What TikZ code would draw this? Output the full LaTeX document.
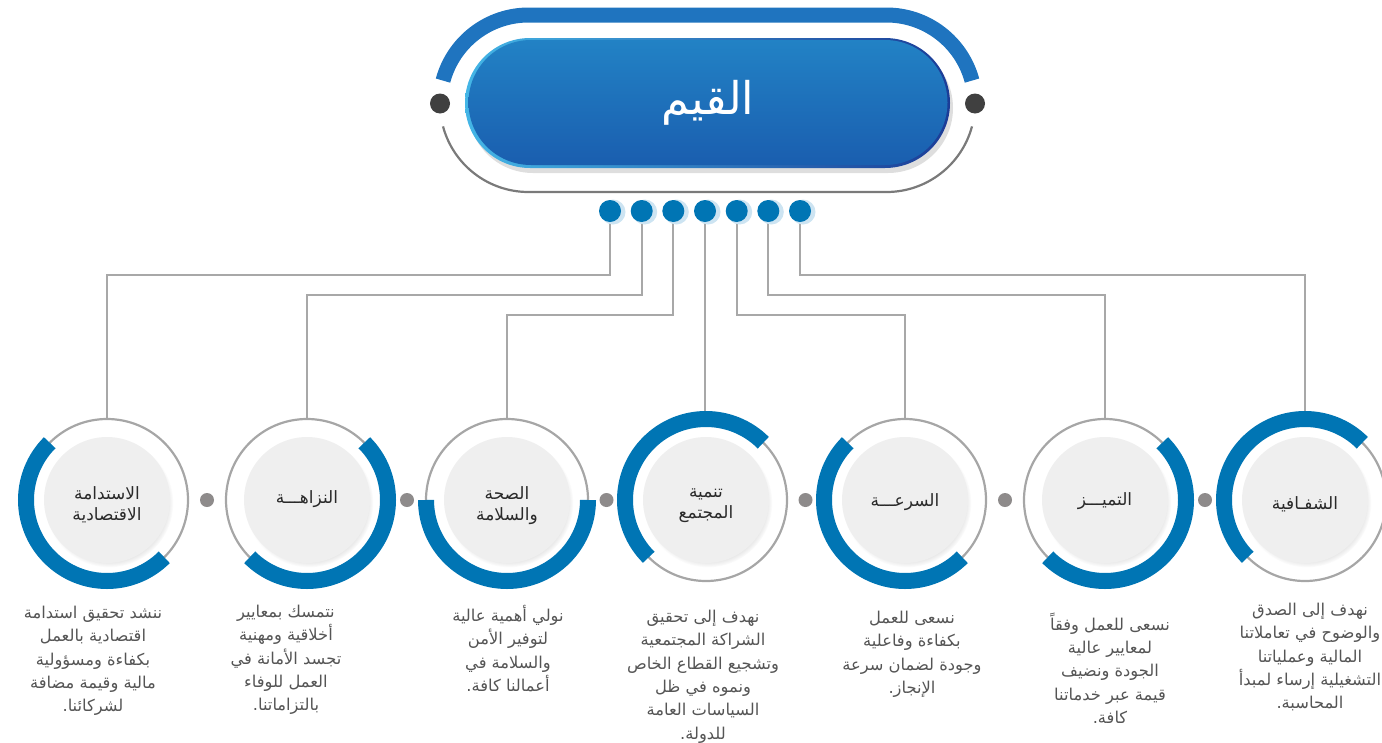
\documentclass[tikz,border=0pt]{standalone}
\usepackage{fontspec}
\setmainfont{DejaVu Sans}
\newfontfamily\arabicfont[Script=Arabic]{DejaVu Sans}
\TeXXeTstate=1
\usetikzlibrary{shadows,shapes.misc,calc,fadings,backgrounds}
\newcommand{\ar}[1]{{\arabicfont\beginR #1\endR}}
\definecolor{ringblue}{HTML}{0075B4}
\definecolor{topblue}{HTML}{1F74BF}
\definecolor{ringgray}{HTML}{A6A6A6}
\definecolor{linegray}{HTML}{A8A8A8}
\definecolor{framegray}{HTML}{7A7A7A}
\definecolor{dotdark}{HTML}{404040}
\definecolor{dotgray}{HTML}{8E8B8B}
\definecolor{diskfill}{HTML}{EFEFEF}
\definecolor{labeltext}{HTML}{2A2A2A}
\definecolor{desctext}{HTML}{555555}
\definecolor{halo}{HTML}{CDE4F2}
\definecolor{pilltop}{HTML}{2282C5}
\definecolor{pillbot}{HTML}{1A5EAF}
\definecolor{pillleft}{HTML}{44B6E6}
\definecolor{pillright}{HTML}{1B3C97}
\tikzset{
  darkdot/.style={circle, fill=dotdark, minimum size=20pt, inner sep=0pt},
  topdot/.style={circle, fill=ringblue, minimum size=22pt, inner sep=0pt},
  graydot/.style={circle, fill=dotgray, minimum size=14pt, inner sep=0pt},
  ring/.style={circle, draw=ringgray, line width=2.2pt, minimum size=162pt, inner sep=0pt},
  bluearc/.style={draw=ringblue, line width=16pt},
  disk/.style={circle, fill=diskfill, minimum size=126pt, inner sep=0pt,
    circular drop shadow={shadow xshift=2pt, shadow yshift=-3pt, opacity=0.3, shadow scale=1.02}},
  lab/.style={font=\fontsize{17}{21}\selectfont, text=labeltext, align=center},
  desc/.style={font=\fontsize{16.3}{23.3}\selectfont, text=desctext, align=center, anchor=north, inner sep=0pt},
  conn/.style={draw=linegray, line width=1.8pt},
}
\begin{document}
\begin{tikzpicture}[x=1pt,y=1pt]
\useasboundingbox (0,0) rectangle (1382,-742);

% top frame
\draw[topblue, line width=15pt] (528.5,-103.5) ++(165:88.5) arc[start angle=165,end angle=90,radius=88.5] -- (886.5,-15) arc[start angle=90,end angle=15,radius=88.5];
\draw[framegray, line width=2.2pt] (528.5,-103.5) ++(195:88.5) arc[start angle=195,end angle=270,radius=88.5] -- (886.5,-192) arc[start angle=270,end angle=345,radius=88.5];
\node[darkdot] (L) at (440,-103.5) {};
\node[darkdot] (R) at (975,-103.5) {};

% title pill
\node[rounded rectangle, minimum width=485pt, minimum height=130pt, inner sep=0pt,
  left color=pillleft, right color=pillright,
  drop shadow={shadow xshift=3pt, shadow yshift=-5pt, opacity=0.13, fill=black}] (pillb) at (707.5,-103) {};
\node[rounded rectangle, minimum width=479pt, minimum height=125pt, inner sep=0pt,
  top color=pilltop, bottom color=pillbot, text=white, font=\fontsize{45}{50}\selectfont] (title) at (708,-102.5) {\ar{القيم}};

% top dots
\foreach \i/\x in {1/610,2/641.7,3/673.3,4/705,5/736.7,6/768.3,7/800}{
  \fill[halo] (\x+3,-212) circle (12.5);
  \node[topdot] (d\i) at (\x,-211) {};
}

% circles
\foreach \i/\x/\a/\b in {1/107/135/315, 2/307/-135/45, 3/507/180/360, 4/706/45/225, 5/905/135/315, 6/1105/-135/45, 7/1305/45/225}{
  \node[ring] (c\i) at (\x,-500) {};
  \draw[bluearc] (c\i.center) ++(\a:81) arc[start angle=\a, end angle=\b, radius=81];
  \node[disk] (k\i) at (c\i.center) {};
}

% gray dots between circles
\node[graydot] (g1) at ($(c1)!0.5!(c2)$) {};
\node[graydot] (g2) at ($(c2)!0.5!(c3)$) {};
\node[graydot] (g3) at ($(c3)!0.5!(c4)$) {};
\node[graydot] (g4) at ($(c4)!0.5!(c5)$) {};
\node[graydot] (g5) at ($(c5)!0.5!(c6)$) {};
\node[graydot] (g6) at ($(c6)!0.5!(c7)$) {};

% connectors (behind the circles)
\coordinate (lv1) at (0,-275);
\coordinate (lv2) at (0,-295);
\coordinate (lv3) at (0,-315);
\begin{scope}[on background layer]
\draw[conn] (d1.south) |- (c1.north |- lv1) -- (c1.north);
\draw[conn] (d2.south) |- (c2.north |- lv2) -- (c2.north);
\draw[conn] (d3.south) |- (c3.north |- lv3) -- (c3.north);
\draw[conn] (d4.south) -- (d4.south |- c4.north);
\draw[conn] (d5.south) |- (c5.north |- lv3) -- (c5.north);
\draw[conn] (d6.south) |- (c6.north |- lv2) -- (c6.north);
\draw[conn] (d7.south) |- (c7.north |- lv1) -- (c7.north);
\end{scope}

% labels
\node[lab] (n1) at (107,-505) {\ar{الاستدامة}\\\ar{الاقتصادية}};
\node[lab] (n2) at (307,-499) {\ar{النزاهـــة}};
\node[lab] (n3) at (507,-506) {\ar{الصحة}\\\ar{والسلامة}};
\node[lab] (n4) at (706,-506) {\ar{تنمية}\\\ar{المجتمع}};
\node[lab] (n5) at (905,-502) {\ar{السرعـــة}};
\node[lab] (n6) at (1105,-501) {\ar{التميـــز}};
\node[lab] (n7) at (1305,-504) {\ar{الشفـافية}};

% descriptions
\node[desc] (t1) at (93,-606) {\ar{ننشد تحقيق استدامة}\\\ar{اقتصادية بالعمل}\\\ar{بكفاءة ومسؤولية}\\\ar{مالية وقيمة مضافة}\\\ar{لشركائنا.}};
\node[desc] (t2) at (286,-605) {\ar{نتمسك بمعايير}\\\ar{أخلاقية ومهنية}\\\ar{تجسد الأمانة في}\\\ar{العمل للوفاء}\\\ar{بالتزاماتنا.}};
\node[desc] (t3) at (508,-605) {\ar{نولي أهمية عالية}\\\ar{لتوفير الأمن}\\\ar{والسلامة في}\\\ar{أعمالنا كافة.}};
\node[desc] (t4) at (703,-610) {\ar{نهدف إلى تحقيق}\\\ar{الشراكة المجتمعية}\\\ar{وتشجيع القطاع الخاص}\\\ar{ونموه في ظل}\\\ar{السياسات العامة}\\\ar{للدولة.}};
\node[desc] (t5) at (912,-611) {\ar{نسعى للعمل}\\\ar{بكفاءة وفاعلية}\\\ar{وجودة لضمان سرعة}\\\ar{الإنجاز.}};
\node[desc] (t6) at (1110,-613) {\ar{نسعى للعمل وفقاً}\\\ar{لمعايير عالية}\\\ar{الجودة ونضيف}\\\ar{قيمة عبر خدماتنا}\\\ar{كافة.}};
\begin{scope}
\clip (1222,-590) rectangle (1382,-742);
\node[desc] (t7) at (1310,-603) {\ar{نهدف إلى الصدق}\\\ar{والوضوح في تعاملاتنا}\\\ar{المالية وعملياتنا}\\\ar{التشغيلية إرساء لمبدأ}\\\ar{المحاسبة.}};
\end{scope}
\end{tikzpicture}
\end{document}
